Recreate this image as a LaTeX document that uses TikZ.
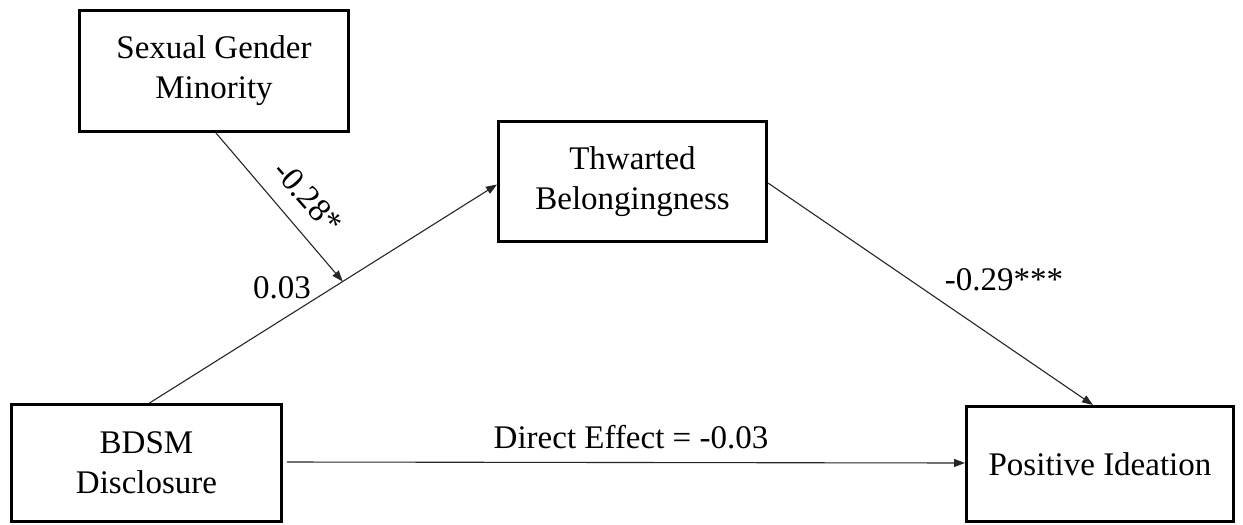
\documentclass[tikz,border=0pt]{standalone}
\usepackage{fontspec}
\setmainfont{Liberation Serif}
\usetikzlibrary{arrows.meta,calc}
\begin{document}
\begin{tikzpicture}[x=1pt,y=-1pt,
  box/.style={draw=black,line width=3pt,rectangle,align=center,inner sep=0pt,
    font=\fontsize{33}{40}\selectfont},
  link/.style={draw=black!85,line width=1.1pt,-{Triangle[length=11pt,width=8pt]}},
  lbl/.style={font=\fontsize{33}{40}\selectfont,inner sep=0pt}]
\useasboundingbox (0,0) rectangle (1243,525);
\fill[white] (0,0) rectangle (1243,525);
\node[box,minimum width=269pt,minimum height=121pt] (sgm) at (214,71) {Sexual Gender\\Minority};
\node[box,minimum width=268pt,minimum height=120pt] (tb) at (632.5,181.5) {Thwarted\\Belongingness};
\node[box,minimum width=270pt,minimum height=117pt] (bdsm) at (146.5,463) {BDSM\\Disclosure};
\node[box,minimum width=267pt,minimum height=115pt] (pi) at (1100,464) {Positive Ideation};
\draw[link] ([xshift=3pt]bdsm.north) -- ([yshift=-3pt]tb.west);
\coordinate (mod) at ($([xshift=3pt]bdsm.north)!0.556!([yshift=-3pt]tb.west)$);
\draw[link] ([xshift=2pt]sgm.south) -- (mod);
\draw[link] ([yshift=-1.5pt]tb.east) -- ([xshift=-7pt]pi.north);
\draw[link,shorten <=4pt] ([yshift=1pt]bdsm.east) -- ([yshift=1pt]pi.west);
\node[lbl,rotate=-48.6] (l1) at (308,197) {-0.28*};
\node[lbl] (l2) at (282,288) {0.03};
\node[lbl] (l3) at (1004,280) {-0.29***};
\node[lbl] (l4) at (631,437) {Direct Effect = -0.03};
\end{tikzpicture}
\end{document}
